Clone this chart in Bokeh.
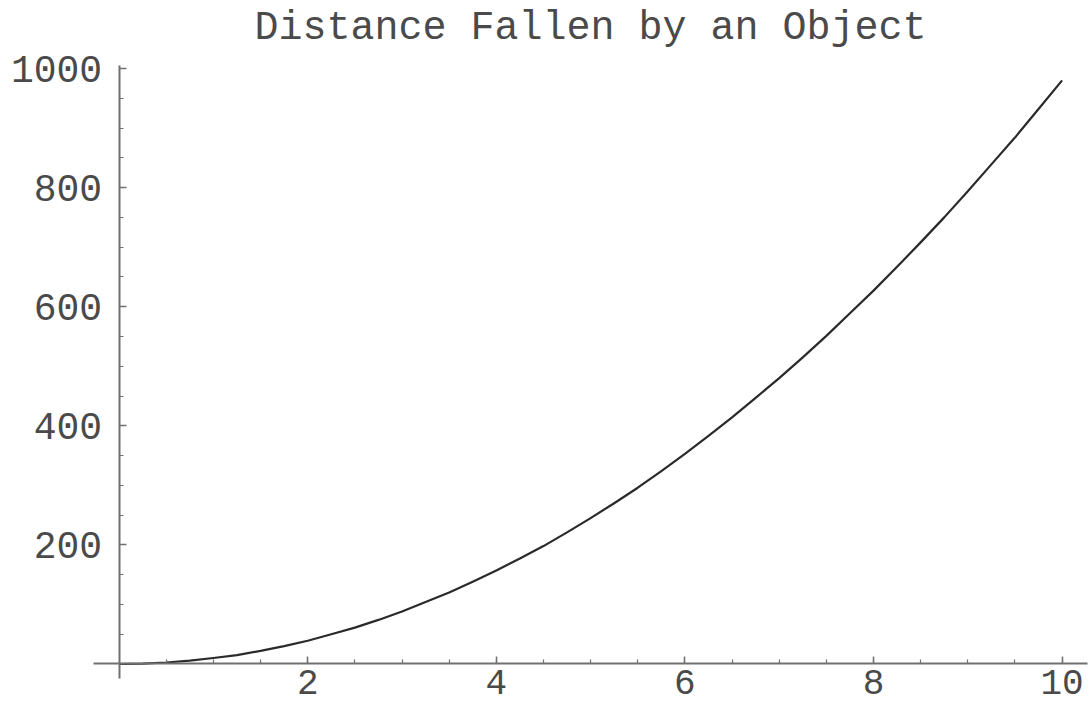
from bokeh.plotting import figure
from bokeh.models import LinearAxis, FixedTicker, Range1d, Label, ColumnDataSource
from bokeh.embed import file_html
from bokeh.resources import INLINE

# data: time (s) vs distance fallen
time_s = [0, 0.25, 0.5, 0.75, 1, 1.25, 1.5, 1.75, 2, 2.25, 2.5, 2.75, 3, 3.25, 3.5, 3.75,
          4, 4.25, 4.5, 4.75, 5, 5.25, 5.5, 5.75, 6, 6.25, 6.5, 6.75, 7, 7.25, 7.5, 7.75,
          8, 8.25, 8.5, 8.75, 9, 9.25, 9.5, 9.75, 10]
distance = [0, 0.6, 2.5, 5.5, 10, 15, 22, 30, 39, 50, 61, 74, 88, 104, 120, 138,
            157, 177, 198, 221, 245, 270, 296, 324, 353, 383, 414, 447, 480, 515, 551, 589,
            627, 667, 708, 750, 794, 839, 884, 932, 980]

x_major = [2, 4, 6, 8, 10]
x_minor = [0.5, 1, 1.5, 2, 2.5, 3, 3.5, 4, 4.5, 5, 5.5, 6, 6.5, 7, 7.5, 8, 8.5, 9, 9.5, 10]
y_major = [200, 400, 600, 800, 1000]
y_minor = [50, 100, 150, 200, 250, 300, 350, 400, 450, 500, 550, 600, 650, 700, 750, 800, 850, 900, 950, 1000]
title_text = "Distance Fallen by an Object"

W, H = 1090, 711
FONT = "Liberation Mono"

p = figure(width=W, height=H, output_backend="svg", toolbar_location=None,
           x_axis_type=None, y_axis_type=None,
           x_range=Range1d(-1.2577, 10.301), y_range=Range1d(-79.8, 1114.2),
           min_border=0, min_border_left=0, min_border_right=0,
           min_border_top=0, min_border_bottom=0)
p.outline_line_color = None
p.xgrid.visible = False
p.ygrid.visible = False
p.background_fill_color = "white"
p.border_fill_color = "white"

src = ColumnDataSource(dict(t=time_s, d=distance))
p.line("t", "d", source=src, line_color="#2a2a2a", line_width=2.2, line_join="round")

axis_color = "#707070"
xaxis = LinearAxis(fixed_location=0, bounds=(-0.27, 10.27),
                   ticker=FixedTicker(ticks=x_major, minor_ticks=x_minor))
yaxis = LinearAxis(fixed_location=0, bounds=(-24, 1005),
                   ticker=FixedTicker(ticks=y_major, minor_ticks=y_minor))
for ax in (xaxis, yaxis):
    ax.axis_line_color = axis_color
    ax.axis_line_width = 2
    ax.major_tick_line_color = axis_color
    ax.minor_tick_line_color = axis_color
    ax.major_tick_line_width = 1.5
    ax.minor_tick_line_width = 1.2
    ax.major_tick_in = 7
    ax.major_tick_out = 0
    ax.minor_tick_in = 4
    ax.minor_tick_out = 0
    ax.major_label_text_font = FONT
    ax.major_label_text_color = "#4a4a4a"
    ax.major_label_text_font_style = "normal"
xaxis.major_label_text_font_size = "36px"
yaxis.major_label_text_font_size = "38px"
xaxis.major_label_standoff = 6
yaxis.major_label_standoff = 17
p.add_layout(xaxis, "below")
p.add_layout(yaxis, "left")

title = Label(x=590, y=H - 28, x_units="screen", y_units="screen", text=title_text,
              text_align="center", text_baseline="middle",
              text_font=FONT, text_font_size="40px", text_color="#4a4a4a")
p.add_layout(title)

open("out.html", "w").write(file_html(p, INLINE))
